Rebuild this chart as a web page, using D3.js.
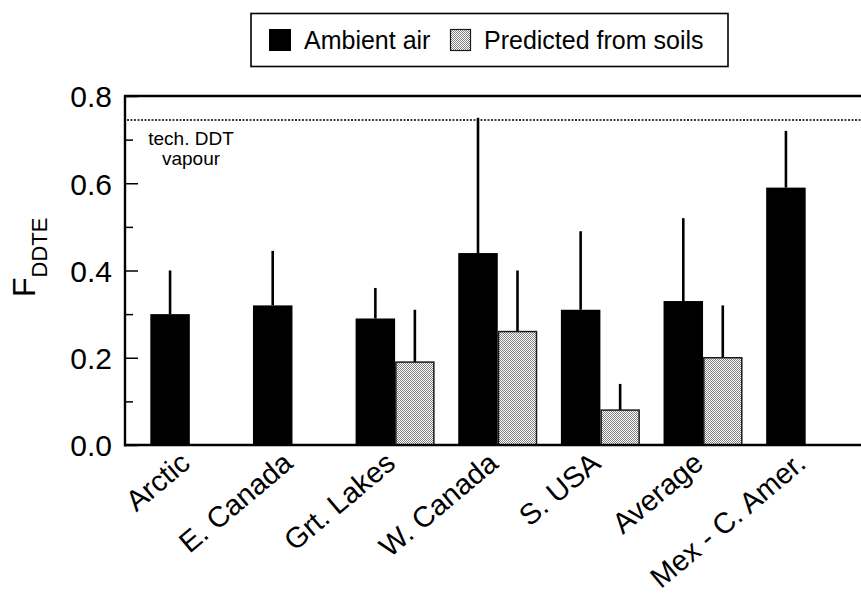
<!DOCTYPE html>
<html>
<head>
<meta charset="utf-8">
<script src="https://cdn.jsdelivr.net/npm/d3@7"></script>
<style>
  html, body { margin: 0; padding: 0; background: #fff; }
  svg { display: block; font-family: "Liberation Sans", Arial, Helvetica, sans-serif; }
</style>
</head>
<body>
<svg id="chart" width="861" height="595"></svg>
<script>
// Regions and the fraction F_DDTE for each
const categories = ["Arctic", "E. Canada", "Grt. Lakes", "W. Canada", "S. USA", "Average", "Mex - C. Amer."];
const ambientAir = [0.30, 0.32, 0.29, 0.44, 0.31, 0.33, 0.59];
const ambientAirErr = [0.10, 0.125, 0.07, 0.31, 0.18, 0.19, 0.13];
const fromSoils = [null, null, 0.19, 0.26, 0.08, 0.20, null];
const fromSoilsErr = [null, null, 0.12, 0.14, 0.06, 0.12, null];
const yTicks = [0.0, 0.2, 0.4, 0.6, 0.8];
const yMinorTicks = [0.1, 0.3, 0.5, 0.7];
const techDDT = 0.745;
const seriesNames = ["Ambient air", "Predicted from soils"];

const svg = d3.select("#chart");
const plotL = 125, plotR = 861, plotT = 96, plotB = 445;

const x = d3.scaleBand().domain(categories).range([138.5, 857]).paddingInner(0).paddingOuter(0);
const y = d3.scaleLinear().domain([0, 0.8]).range([plotB, plotT]);
const barW = 39.5;

// checker fill for the soil-derived bars
const defs = svg.append("defs");
const pat = defs.append("pattern").attr("id", "checker")
  .attr("width", 2).attr("height", 2).attr("patternUnits", "userSpaceOnUse");
pat.append("rect").attr("width", 2).attr("height", 2).attr("fill", "#ffffff");
pat.append("rect").attr("width", 1).attr("height", 1).attr("fill", "#808080");
pat.append("rect").attr("x", 1).attr("y", 1).attr("width", 1).attr("height", 1).attr("fill", "#808080");

// technical DDT vapour reference line
svg.append("line")
  .attr("x1", plotL + 2).attr("x2", plotR)
  .attr("y1", y(techDDT)).attr("y2", y(techDDT))
  .attr("stroke", "#000").attr("stroke-width", 1.6).attr("stroke-dasharray", "2,1.5");
const note = svg.append("text").attr("text-anchor", "middle").attr("font-size", 19).attr("fill", "#000");
note.append("tspan").attr("x", 191).attr("y", 145).text("tech. DDT");
note.append("tspan").attr("x", 191).attr("y", 165).text("vapour");

const ambientData = categories.map((c, i) => ({ c, v: ambientAir[i], e: ambientAirErr[i] }));
const soilData = categories.map((c, i) => ({ c, v: fromSoils[i], e: fromSoilsErr[i] })).filter(d => d.v != null);

// error bars (upper only), drawn behind the bars
svg.append("g").selectAll("line").data(ambientData).join("line")
  .attr("x1", d => x(d.c) + x.bandwidth() / 2 - barW / 2)
  .attr("x2", d => x(d.c) + x.bandwidth() / 2 - barW / 2)
  .attr("y1", d => y(d.v)).attr("y2", d => y(d.v + d.e))
  .attr("stroke", "#000").attr("stroke-width", 2.6);
svg.append("g").selectAll("line").data(soilData).join("line")
  .attr("x1", d => x(d.c) + x.bandwidth() / 2 + barW / 2)
  .attr("x2", d => x(d.c) + x.bandwidth() / 2 + barW / 2)
  .attr("y1", d => y(d.v)).attr("y2", d => y(d.v + d.e))
  .attr("stroke", "#000").attr("stroke-width", 2.6);

// bars
svg.append("g").selectAll("rect").data(ambientData).join("rect")
  .attr("x", d => x(d.c) + x.bandwidth() / 2 - barW)
  .attr("y", d => y(d.v))
  .attr("width", barW)
  .attr("height", d => y(0) - y(d.v))
  .attr("fill", "#000");
svg.append("g").selectAll("rect").data(soilData).join("rect")
  .attr("x", d => x(d.c) + x.bandwidth() / 2 + 0.75)
  .attr("y", d => y(d.v))
  .attr("width", barW - 1.5)
  .attr("height", d => y(0) - y(d.v))
  .attr("fill", "url(#checker)")
  .attr("stroke", "#1a1a1a").attr("stroke-width", 1.5);

// frame: left axis, bottom axis, top border
svg.append("line").attr("x1", plotL).attr("x2", plotL).attr("y1", plotT - 1).attr("y2", plotB + 1.2)
  .attr("stroke", "#000").attr("stroke-width", 2.4);
svg.append("line").attr("x1", plotL - 1).attr("x2", plotR).attr("y1", plotB).attr("y2", plotB)
  .attr("stroke", "#000").attr("stroke-width", 2.4);
svg.append("line").attr("x1", plotL - 1).attr("x2", plotR).attr("y1", plotT).attr("y2", plotT)
  .attr("stroke", "#000").attr("stroke-width", 2.4);

// y ticks (inward) and labels
const yAxis = d3.axisLeft(y).tickValues(yTicks).tickSize(-13).tickPadding(13).tickFormat(d3.format(".1f"));
const yg = svg.append("g").attr("transform", `translate(${plotL},0)`).call(yAxis);
yg.select(".domain").remove();
yg.selectAll(".tick line").attr("stroke", "#000").attr("stroke-width", 1.5);
yg.selectAll(".tick text").attr("font-size", 30).attr("fill", "#000").attr("dy", "0.36em")
  .attr("font-family", "'Liberation Sans', Arial, sans-serif");
const yMinor = d3.axisLeft(y).tickValues(yMinorTicks).tickSize(-8).tickFormat("");
const ym = svg.append("g").attr("transform", `translate(${plotL},0)`).call(yMinor);
ym.select(".domain").remove();
ym.selectAll(".tick line").attr("stroke", "#000").attr("stroke-width", 1.5);

// y title: F with subscript DDTE
const yt = svg.append("text")
  .attr("transform", "translate(35,297) rotate(-90)")
  .attr("fill", "#000");
yt.append("tspan").attr("font-size", 32).text("F");
yt.append("tspan").attr("font-size", 22).attr("dy", 12).text("DDTE");

// category labels, rotated
svg.append("g").selectAll("text").data(categories).join("text")
  .attr("transform", d => `translate(${x(d) + x.bandwidth() / 2 + 2},466) rotate(-40)`)
  .attr("text-anchor", "end")
  .attr("font-size", 29)
  .attr("fill", "#000")
  .text(d => d);

// legend
const lg = svg.append("g");
lg.append("rect").attr("x", 251).attr("y", 13.5).attr("width", 477).attr("height", 53)
  .attr("fill", "#fff").attr("stroke", "#000").attr("stroke-width", 1.6);
lg.append("rect").attr("x", 269).attr("y", 29).attr("width", 22).attr("height", 22).attr("fill", "#000");
lg.append("text").attr("x", 304).attr("y", 49).attr("font-size", 25).attr("fill", "#000").text(seriesNames[0]);
lg.append("rect").attr("x", 450.5).attr("y", 29.5).attr("width", 20).attr("height", 21)
  .attr("fill", "url(#checker)").attr("stroke", "#1a1a1a").attr("stroke-width", 1.2);
lg.append("text").attr("x", 484).attr("y", 49).attr("font-size", 25).attr("fill", "#000").text(seriesNames[1]);
</script>
</body>
</html>
